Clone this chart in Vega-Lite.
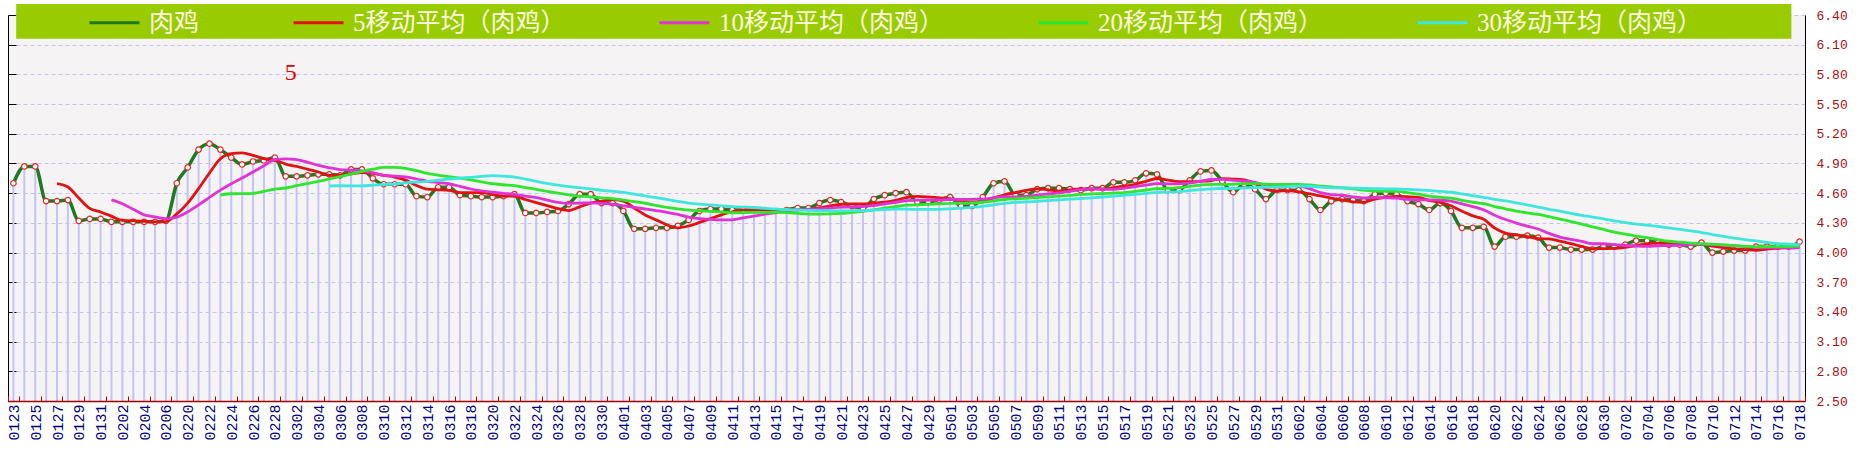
{
  "$schema": "https://vega.github.io/schema/vega-lite/v6.json",
  "width": 1797,
  "height": 386,
  "autosize": {"type": "none"},
  "padding": {"left": 8, "top": 15, "right": 52, "bottom": 61},
  "background": "white",
  "config": {
    "view": {"stroke": null, "fill": "#f5f3f3"},
    "font": "Liberation Sans"
  },
  "datasets": {
    "d": [
      {"date":"0123","price":4.70},
      {"date":"0124","price":4.87},
      {"date":"0125","price":4.87},
      {"date":"0126","price":4.52},
      {"date":"0127","price":4.52,"ma5":4.696},
      {"date":"0128","price":4.53,"ma5":4.662},
      {"date":"0129","price":4.32,"ma5":4.552},
      {"date":"0130","price":4.34,"ma5":4.446},
      {"date":"0131","price":4.34,"ma5":4.410},
      {"date":"0201","price":4.31,"ma5":4.368,"ma10":4.532},
      {"date":"0202","price":4.31,"ma5":4.324,"ma10":4.493},
      {"date":"0203","price":4.31,"ma5":4.322,"ma10":4.437},
      {"date":"0204","price":4.31,"ma5":4.316,"ma10":4.381},
      {"date":"0205","price":4.31,"ma5":4.310,"ma10":4.360},
      {"date":"0206","price":4.32,"ma5":4.312,"ma10":4.340},
      {"date":"0219","price":4.70,"ma5":4.390,"ma10":4.357},
      {"date":"0220","price":4.86,"ma5":4.500,"ma10":4.411},
      {"date":"0221","price":5.04,"ma5":4.646,"ma10":4.481},
      {"date":"0222","price":5.10,"ma5":4.804,"ma10":4.557},
      {"date":"0223","price":5.04,"ma5":4.948,"ma10":4.630,"ma20":4.581},
      {"date":"0224","price":4.96,"ma5":5.000,"ma10":4.695,"ma20":4.594},
      {"date":"0225","price":4.89,"ma5":5.006,"ma10":4.753,"ma20":4.595},
      {"date":"0226","price":4.92,"ma5":4.982,"ma10":4.814,"ma20":4.598},
      {"date":"0227","price":4.93,"ma5":4.948,"ma10":4.876,"ma20":4.618},
      {"date":"0228","price":4.96,"ma5":4.932,"ma10":4.940,"ma20":4.640},
      {"date":"0301","price":4.77,"ma5":4.894,"ma10":4.947,"ma20":4.652},
      {"date":"0302","price":4.77,"ma5":4.870,"ma10":4.938,"ma20":4.675},
      {"date":"0303","price":4.78,"ma5":4.842,"ma10":4.912,"ma20":4.697},
      {"date":"0304","price":4.79,"ma5":4.814,"ma10":4.881,"ma20":4.719},
      {"date":"0305","price":4.79,"ma5":4.780,"ma10":4.856,"ma20":4.743,"ma30":4.673},
      {"date":"0306","price":4.78,"ma5":4.782,"ma10":4.838,"ma20":4.767,"ma30":4.675},
      {"date":"0307","price":4.84,"ma5":4.796,"ma10":4.833,"ma20":4.793,"ma30":4.674},
      {"date":"0308","price":4.84,"ma5":4.808,"ma10":4.825,"ma20":4.820,"ma30":4.673},
      {"date":"0309","price":4.75,"ma5":4.800,"ma10":4.807,"ma20":4.842,"ma30":4.681},
      {"date":"0310","price":4.69,"ma5":4.780,"ma10":4.780,"ma20":4.860,"ma30":4.687},
      {"date":"0311","price":4.69,"ma5":4.762,"ma10":4.772,"ma20":4.860,"ma30":4.692},
      {"date":"0312","price":4.69,"ma5":4.732,"ma10":4.764,"ma20":4.851,"ma30":4.704},
      {"date":"0313","price":4.57,"ma5":4.678,"ma10":4.743,"ma20":4.828,"ma30":4.712},
      {"date":"0314","price":4.56,"ma5":4.640,"ma10":4.720,"ma20":4.801,"ma30":4.719},
      {"date":"0315","price":4.66,"ma5":4.634,"ma10":4.707,"ma20":4.782,"ma30":4.731},
      {"date":"0316","price":4.66,"ma5":4.628,"ma10":4.695,"ma20":4.767,"ma30":4.743},
      {"date":"0317","price":4.58,"ma5":4.606,"ma10":4.669,"ma20":4.751,"ma30":4.752},
      {"date":"0318","price":4.57,"ma5":4.606,"ma10":4.642,"ma20":4.734,"ma30":4.760},
      {"date":"0319","price":4.56,"ma5":4.606,"ma10":4.623,"ma20":4.715,"ma30":4.769},
      {"date":"0320","price":4.56,"ma5":4.586,"ma10":4.610,"ma20":4.695,"ma30":4.777},
      {"date":"0321","price":4.57,"ma5":4.568,"ma10":4.598,"ma20":4.685,"ma30":4.772},
      {"date":"0322","price":4.59,"ma5":4.570,"ma10":4.588,"ma20":4.676,"ma30":4.763},
      {"date":"0323","price":4.40,"ma5":4.536,"ma10":4.571,"ma20":4.657,"ma30":4.742},
      {"date":"0324","price":4.40,"ma5":4.504,"ma10":4.555,"ma20":4.638,"ma30":4.719},
      {"date":"0325","price":4.41,"ma5":4.474,"ma10":4.530,"ma20":4.619,"ma30":4.698},
      {"date":"0326","price":4.42,"ma5":4.444,"ma10":4.506,"ma20":4.601,"ma30":4.680},
      {"date":"0327","price":4.49,"ma5":4.424,"ma10":4.497,"ma20":4.583,"ma30":4.666},
      {"date":"0328","price":4.59,"ma5":4.462,"ma10":4.499,"ma20":4.571,"ma30":4.655},
      {"date":"0329","price":4.59,"ma5":4.500,"ma10":4.502,"ma20":4.563,"ma30":4.644},
      {"date":"0330","price":4.50,"ma5":4.518,"ma10":4.496,"ma20":4.553,"ma30":4.629},
      {"date":"0331","price":4.50,"ma5":4.534,"ma10":4.489,"ma20":4.544,"ma30":4.620},
      {"date":"0401","price":4.42,"ma5":4.520,"ma10":4.472,"ma20":4.530,"ma30":4.608},
      {"date":"0402","price":4.24,"ma5":4.450,"ma10":4.456,"ma20":4.514,"ma30":4.590},
      {"date":"0403","price":4.24,"ma5":4.380,"ma10":4.440,"ma20":4.498,"ma30":4.572},
      {"date":"0404","price":4.25,"ma5":4.330,"ma10":4.424,"ma20":4.477,"ma30":4.554},
      {"date":"0405","price":4.25,"ma5":4.280,"ma10":4.407,"ma20":4.457,"ma30":4.536},
      {"date":"0406","price":4.27,"ma5":4.250,"ma10":4.385,"ma20":4.441,"ma30":4.517},
      {"date":"0407","price":4.33,"ma5":4.268,"ma10":4.359,"ma20":4.429,"ma30":4.500},
      {"date":"0408","price":4.42,"ma5":4.304,"ma10":4.342,"ma20":4.422,"ma30":4.489},
      {"date":"0409","price":4.44,"ma5":4.342,"ma10":4.336,"ma20":4.416,"ma30":4.481},
      {"date":"0410","price":4.44,"ma5":4.380,"ma10":4.330,"ma20":4.410,"ma30":4.472},
      {"date":"0411","price":4.43,"ma5":4.412,"ma10":4.331,"ma20":4.402,"ma30":4.464},
      {"date":"0412","price":4.43,"ma5":4.432,"ma10":4.350,"ma20":4.403,"ma30":4.459},
      {"date":"0413","price":4.43,"ma5":4.434,"ma10":4.369,"ma20":4.405,"ma30":4.455},
      {"date":"0414","price":4.43,"ma5":4.432,"ma10":4.387,"ma20":4.406,"ma30":4.447},
      {"date":"0415","price":4.42,"ma5":4.428,"ma10":4.404,"ma20":4.406,"ma30":4.439},
      {"date":"0416","price":4.43,"ma5":4.428,"ma10":4.420,"ma20":4.403,"ma30":4.434},
      {"date":"0417","price":4.45,"ma5":4.432,"ma10":4.432,"ma20":4.396,"ma30":4.430},
      {"date":"0418","price":4.45,"ma5":4.436,"ma10":4.435,"ma20":4.389,"ma30":4.426},
      {"date":"0419","price":4.50,"ma5":4.450,"ma10":4.441,"ma20":4.389,"ma30":4.424},
      {"date":"0420","price":4.53,"ma5":4.472,"ma10":4.450,"ma20":4.390,"ma30":4.423},
      {"date":"0421","price":4.51,"ma5":4.488,"ma10":4.458,"ma20":4.395,"ma30":4.420},
      {"date":"0422","price":4.47,"ma5":4.492,"ma10":4.462,"ma20":4.406,"ma30":4.423},
      {"date":"0423","price":4.45,"ma5":4.492,"ma10":4.464,"ma20":4.417,"ma30":4.424},
      {"date":"0424","price":4.54,"ma5":4.500,"ma10":4.475,"ma20":4.431,"ma30":4.429},
      {"date":"0425","price":4.58,"ma5":4.510,"ma10":4.491,"ma20":4.448,"ma30":4.434},
      {"date":"0426","price":4.60,"ma5":4.528,"ma10":4.508,"ma20":4.464,"ma30":4.438},
      {"date":"0427","price":4.61,"ma5":4.556,"ma10":4.524,"ma20":4.478,"ma30":4.438},
      {"date":"0428","price":4.51,"ma5":4.568,"ma10":4.530,"ma20":4.483,"ma30":4.436},
      {"date":"0429","price":4.51,"ma5":4.562,"ma10":4.531,"ma20":4.486,"ma30":4.436},
      {"date":"0430","price":4.53,"ma5":4.552,"ma10":4.531,"ma20":4.491,"ma30":4.437},
      {"date":"0501","price":4.56,"ma5":4.544,"ma10":4.536,"ma20":4.497,"ma30":4.442},
      {"date":"0502","price":4.47,"ma5":4.516,"ma10":4.536,"ma20":4.499,"ma30":4.449},
      {"date":"0503","price":4.47,"ma5":4.508,"ma10":4.538,"ma20":4.501,"ma30":4.457},
      {"date":"0504","price":4.56,"ma5":4.518,"ma10":4.540,"ma20":4.508,"ma30":4.467},
      {"date":"0505","price":4.70,"ma5":4.552,"ma10":4.552,"ma20":4.522,"ma30":4.482},
      {"date":"0506","price":4.72,"ma5":4.584,"ma10":4.564,"ma20":4.536,"ma30":4.497},
      {"date":"0507","price":4.58,"ma5":4.606,"ma10":4.561,"ma20":4.543,"ma30":4.506},
      {"date":"0508","price":4.58,"ma5":4.628,"ma10":4.568,"ma20":4.549,"ma30":4.511},
      {"date":"0509","price":4.64,"ma5":4.644,"ma10":4.581,"ma20":4.556,"ma30":4.518},
      {"date":"0510","price":4.65,"ma5":4.634,"ma10":4.593,"ma20":4.562,"ma30":4.525},
      {"date":"0511","price":4.65,"ma5":4.620,"ma10":4.602,"ma20":4.569,"ma30":4.532},
      {"date":"0512","price":4.64,"ma5":4.632,"ma10":4.619,"ma20":4.578,"ma30":4.539},
      {"date":"0513","price":4.63,"ma5":4.642,"ma10":4.635,"ma20":4.587,"ma30":4.546},
      {"date":"0514","price":4.65,"ma5":4.644,"ma10":4.644,"ma20":4.592,"ma30":4.553},
      {"date":"0515","price":4.65,"ma5":4.644,"ma10":4.639,"ma20":4.596,"ma30":4.561},
      {"date":"0516","price":4.71,"ma5":4.656,"ma10":4.638,"ma20":4.601,"ma30":4.570},
      {"date":"0517","price":4.71,"ma5":4.670,"ma10":4.651,"ma20":4.606,"ma30":4.579},
      {"date":"0518","price":4.73,"ma5":4.690,"ma10":4.666,"ma20":4.617,"ma30":4.588},
      {"date":"0519","price":4.80,"ma5":4.720,"ma10":4.682,"ma20":4.632,"ma30":4.598},
      {"date":"0520","price":4.79,"ma5":4.748,"ma10":4.696,"ma20":4.645,"ma30":4.607},
      {"date":"0521","price":4.63,"ma5":4.732,"ma10":4.694,"ma20":4.648,"ma30":4.611},
      {"date":"0522","price":4.63,"ma5":4.716,"ma10":4.693,"ma20":4.656,"ma30":4.616},
      {"date":"0523","price":4.73,"ma5":4.716,"ma10":4.703,"ma20":4.669,"ma30":4.625},
      {"date":"0524","price":4.82,"ma5":4.720,"ma10":4.720,"ma20":4.682,"ma30":4.635},
      {"date":"0525","price":4.83,"ma5":4.728,"ma10":4.738,"ma20":4.689,"ma30":4.643},
      {"date":"0526","price":4.72,"ma5":4.746,"ma10":4.739,"ma20":4.689,"ma30":4.647},
      {"date":"0527","price":4.61,"ma5":4.742,"ma10":4.729,"ma20":4.690,"ma30":4.647},
      {"date":"0528","price":4.69,"ma5":4.734,"ma10":4.725,"ma20":4.696,"ma30":4.653},
      {"date":"0529","price":4.64,"ma5":4.698,"ma10":4.709,"ma20":4.696,"ma30":4.657},
      {"date":"0530","price":4.54,"ma5":4.640,"ma10":4.684,"ma20":4.690,"ma30":4.658},
      {"date":"0531","price":4.63,"ma5":4.622,"ma10":4.684,"ma20":4.689,"ma30":4.660},
      {"date":"0601","price":4.63,"ma5":4.626,"ma10":4.684,"ma20":4.689,"ma30":4.665},
      {"date":"0602","price":4.63,"ma5":4.614,"ma10":4.674,"ma20":4.689,"ma30":4.671},
      {"date":"0603","price":4.54,"ma5":4.594,"ma10":4.646,"ma20":4.683,"ma30":4.670},
      {"date":"0604","price":4.43,"ma5":4.572,"ma10":4.606,"ma20":4.672,"ma30":4.661},
      {"date":"0605","price":4.52,"ma5":4.550,"ma10":4.586,"ma20":4.663,"ma30":4.654},
      {"date":"0606","price":4.54,"ma5":4.532,"ma10":4.579,"ma20":4.654,"ma30":4.653},
      {"date":"0607","price":4.53,"ma5":4.512,"ma10":4.563,"ma20":4.644,"ma30":4.651},
      {"date":"0608","price":4.52,"ma5":4.508,"ma10":4.551,"ma20":4.630,"ma30":4.647},
      {"date":"0609","price":4.59,"ma5":4.540,"ma10":4.556,"ma20":4.620,"ma30":4.645},
      {"date":"0610","price":4.60,"ma5":4.556,"ma10":4.553,"ma20":4.619,"ma30":4.644},
      {"date":"0611","price":4.59,"ma5":4.566,"ma10":4.549,"ma20":4.617,"ma30":4.642},
      {"date":"0612","price":4.52,"ma5":4.564,"ma10":4.538,"ma20":4.606,"ma30":4.638},
      {"date":"0613","price":4.49,"ma5":4.558,"ma10":4.533,"ma20":4.590,"ma30":4.633},
      {"date":"0614","price":4.43,"ma5":4.526,"ma10":4.533,"ma20":4.570,"ma30":4.626},
      {"date":"0615","price":4.50,"ma5":4.506,"ma10":4.531,"ma20":4.559,"ma30":4.619},
      {"date":"0616","price":4.42,"ma5":4.472,"ma10":4.519,"ma20":4.549,"ma30":4.609},
      {"date":"0617","price":4.25,"ma5":4.418,"ma10":4.491,"ma20":4.527,"ma30":4.593},
      {"date":"0618","price":4.25,"ma5":4.370,"ma10":4.464,"ma20":4.508,"ma30":4.575},
      {"date":"0619","price":4.26,"ma5":4.336,"ma10":4.431,"ma20":4.494,"ma30":4.557},
      {"date":"0620","price":4.06,"ma5":4.248,"ma10":4.377,"ma20":4.465,"ma30":4.538},
      {"date":"0621","price":4.16,"ma5":4.196,"ma10":4.334,"ma20":4.442,"ma30":4.522},
      {"date":"0622","price":4.16,"ma5":4.178,"ma10":4.298,"ma20":4.418,"ma30":4.503},
      {"date":"0623","price":4.17,"ma5":4.162,"ma10":4.266,"ma20":4.400,"ma30":4.482},
      {"date":"0624","price":4.15,"ma5":4.140,"ma10":4.238,"ma20":4.386,"ma30":4.459},
      {"date":"0625","price":4.05,"ma5":4.138,"ma10":4.193,"ma20":4.362,"ma30":4.437},
      {"date":"0626","price":4.05,"ma5":4.116,"ma10":4.156,"ma20":4.338,"ma30":4.418},
      {"date":"0627","price":4.03,"ma5":4.090,"ma10":4.134,"ma20":4.313,"ma30":4.396},
      {"date":"0628","price":4.03,"ma5":4.062,"ma10":4.112,"ma20":4.288,"ma30":4.376},
      {"date":"0629","price":4.03,"ma5":4.038,"ma10":4.089,"ma20":4.260,"ma30":4.359},
      {"date":"0630","price":4.06,"ma5":4.040,"ma10":4.089,"ma20":4.233,"ma30":4.340},
      {"date":"0701","price":4.06,"ma5":4.042,"ma10":4.079,"ma20":4.207,"ma30":4.321},
      {"date":"0702","price":4.08,"ma5":4.052,"ma10":4.071,"ma20":4.185,"ma30":4.302},
      {"date":"0703","price":4.12,"ma5":4.070,"ma10":4.066,"ma20":4.166,"ma30":4.288},
      {"date":"0704","price":4.12,"ma5":4.088,"ma10":4.063,"ma20":4.151,"ma30":4.278},
      {"date":"0705","price":4.10,"ma5":4.096,"ma10":4.068,"ma20":4.131,"ma30":4.264},
      {"date":"0706","price":4.08,"ma5":4.100,"ma10":4.071,"ma20":4.114,"ma30":4.249},
      {"date":"0707","price":4.08,"ma5":4.100,"ma10":4.076,"ma20":4.105,"ma30":4.234},
      {"date":"0708","price":4.06,"ma5":4.088,"ma10":4.079,"ma20":4.096,"ma30":4.218},
      {"date":"0709","price":4.10,"ma5":4.084,"ma10":4.086,"ma20":4.088,"ma30":4.202},
      {"date":"0710","price":4.00,"ma5":4.064,"ma10":4.080,"ma20":4.085,"ma30":4.182},
      {"date":"0711","price":4.01,"ma5":4.050,"ma10":4.075,"ma20":4.077,"ma30":4.163},
      {"date":"0712","price":4.02,"ma5":4.038,"ma10":4.069,"ma20":4.070,"ma30":4.146},
      {"date":"0713","price":4.02,"ma5":4.030,"ma10":4.059,"ma20":4.063,"ma30":4.130},
      {"date":"0714","price":4.06,"ma5":4.022,"ma10":4.053,"ma20":4.058,"ma30":4.118},
      {"date":"0715","price":4.06,"ma5":4.034,"ma10":4.049,"ma20":4.059,"ma30":4.103},
      {"date":"0716","price":4.06,"ma5":4.044,"ma10":4.047,"ma20":4.059,"ma30":4.091},
      {"date":"0717","price":4.06,"ma5":4.052,"ma10":4.045,"ma20":4.061,"ma30":4.085},
      {"date":"0718","price":4.11,"ma5":4.070,"ma10":4.050,"ma20":4.065,"ma30":4.080}
    ]
  },
  "data": {"name": "d"},
  "resolve": {"axis": {"y": "independent"}},
  "layer": [
    {
      "data": {"values": [{}]},
      "mark": {"type": "rect", "color": "#99cc00"},
      "encoding": {
        "x": {"datum": "0123", "type": "ordinal", "bandPosition": 0.75, "title": null},
        "x2": {"datum": "0717", "bandPosition": 0.75},
        "y": {
          "datum": 6.51,
          "type": "quantitative",
          "scale": {"domain": [2.5, 6.4], "zero": false, "nice": false},
          "axis": {
            "orient": "left",
            "title": null,
            "labels": false,
            "ticks": true,
            "tickSize": -8,
            "tickColor": "black",
            "domainColor": "black",
            "grid": false,
            "values": [2.5, 2.8, 3.1, 3.4, 3.7, 4.0, 4.3, 4.6, 4.9, 5.2, 5.5, 5.8, 6.1, 6.4]
          }
        },
        "y2": {"datum": 6.16}
      }
    },
    {
      "mark": {"type": "rule", "color": "#c4c4f6", "strokeWidth": 2},
      "encoding": {
        "x": {
          "field": "date",
          "type": "ordinal",
          "title": null,
          "scale": {"paddingInner": 0, "paddingOuter": 0},
          "axis": {
            "title": null,
            "values": ["0123","0125","0127","0129","0131","0202","0204","0206","0220","0222","0224","0226","0228","0302","0304","0306","0308","0310","0312","0314","0316","0318","0320","0322","0324","0326","0328","0330","0401","0403","0405","0407","0409","0411","0413","0415","0417","0419","0421","0423","0425","0427","0429","0501","0503","0505","0507","0509","0511","0513","0515","0517","0519","0521","0523","0525","0527","0529","0531","0602","0604","0606","0608","0610","0612","0614","0616","0618","0620","0622","0624","0626","0628","0630","0702","0704","0706","0708","0710","0712","0714","0716","0718"],
            "orient": "bottom",
            "labelAngle": 270,
            "labelFont": "Liberation Mono",
            "labelFontSize": 15,
            "labelColor": "#000080",
            "labelPadding": 8,
            "labelOverlap": false,
            "tickBand": "extent",
            "tickColor": "#c00000",
            "tickSize": -5,
            "domainColor": "#a00000",
            "domainWidth": 1.5,
            "grid": false,
            "zindex": 1
          }
        },
        "y": {
          "field": "price",
          "type": "quantitative",
          "scale": {"domain": [2.5, 6.4], "zero": false, "nice": false},
          "axis": {
            "orient": "right",
            "title": null,
            "values": [2.5, 2.8, 3.1, 3.4, 3.7, 4.0, 4.3, 4.6, 4.9, 5.2, 5.5, 5.8, 6.1, 6.4],
            "format": ".2f",
            "labelFont": "Liberation Mono",
            "labelFontSize": 13,
            "labelColor": "#a81010",
            "labelPadding": 11,
            "ticks": false,
            "domainColor": "black",
            "grid": true,
            "gridColor": "#c4c4ec",
            "gridDash": [4, 3],
            "gridWidth": 1
          }
        },
        "y2": {"datum": 2.5}
      }
    },
    {
      "transform": [
        {"fold": ["price", "ma5", "ma10", "ma20", "ma30"], "as": ["series", "value"]},
        {"filter": "datum.series === 'price'"}
      ],
      "mark": {"type": "line", "strokeWidth": 3.5, "interpolate": "monotone"},
      "encoding": {
        "x": {"field": "date", "type": "ordinal", "title": null},
        "y": {"field": "value", "type": "quantitative", "scale": {"domain": [2.5, 6.4], "zero": false, "nice": false}, "axis": null},
        "color": {
          "field": "series",
          "type": "nominal",
          "scale": {"domain": ["price", "ma5", "ma10", "ma20", "ma30"], "range": ["#1e7a1e", "#e01212", "#e033d6", "#2ee62e", "#3ee6e0"]},
          "legend": {
            "title": null,
            "orient": "none",
            "legendX": 80,
            "legendY": -19,
            "direction": "horizontal",
            "padding": 0,
            "symbolType": "stroke",
            "symbolSize": 2500,
            "symbolStrokeWidth": 3,
            "labelFont": "Liberation Serif, Noto Sans CJK SC",
            "labelFontSize": 25,
            "labelColor": "#fdfbe0",
            "labelLimit": 400,
            "labelOffset": 8,
            "columnPadding": 87,
            "labelExpr": "{'price':'肉鸡','ma5':'5移动平均（肉鸡）','ma10':'10移动平均（肉鸡）','ma20':'20移动平均（肉鸡）','ma30':'30移动平均（肉鸡）'}[datum.label]"
          }
        }
      }
    },
    {
      "mark": {"type": "point", "shape": "circle", "filled": true, "fill": "white", "stroke": "#e02828", "strokeWidth": 1.2, "size": 30, "opacity": 1},
      "encoding": {
        "x": {"field": "date", "type": "ordinal", "title": null},
        "y": {"field": "price", "type": "quantitative", "scale": {"domain": [2.5, 6.4], "zero": false, "nice": false}, "axis": null}
      }
    },
    {
      "transform": [
        {"fold": ["price", "ma5", "ma10", "ma20", "ma30"], "as": ["series", "value"]},
        {"filter": "datum.series !== 'price'"}
      ],
      "mark": {"type": "line", "strokeWidth": 2.8, "interpolate": "monotone"},
      "encoding": {
        "x": {"field": "date", "type": "ordinal", "title": null},
        "y": {"field": "value", "type": "quantitative", "scale": {"domain": [2.5, 6.4], "zero": false, "nice": false}, "axis": null},
        "color": {"field": "series", "type": "nominal"}
      }
    },
    {
      "data": {"values": [{"note": "5"}]},
      "mark": {"type": "text", "font": "Liberation Serif", "fontSize": 24, "color": "#e00000", "dx": 5},
      "encoding": {
        "x": {"datum": "0301", "type": "ordinal", "title": null},
        "y": {"datum": 5.81, "type": "quantitative", "axis": null},
        "text": {"field": "note"}
      }
    }
  ]
}
